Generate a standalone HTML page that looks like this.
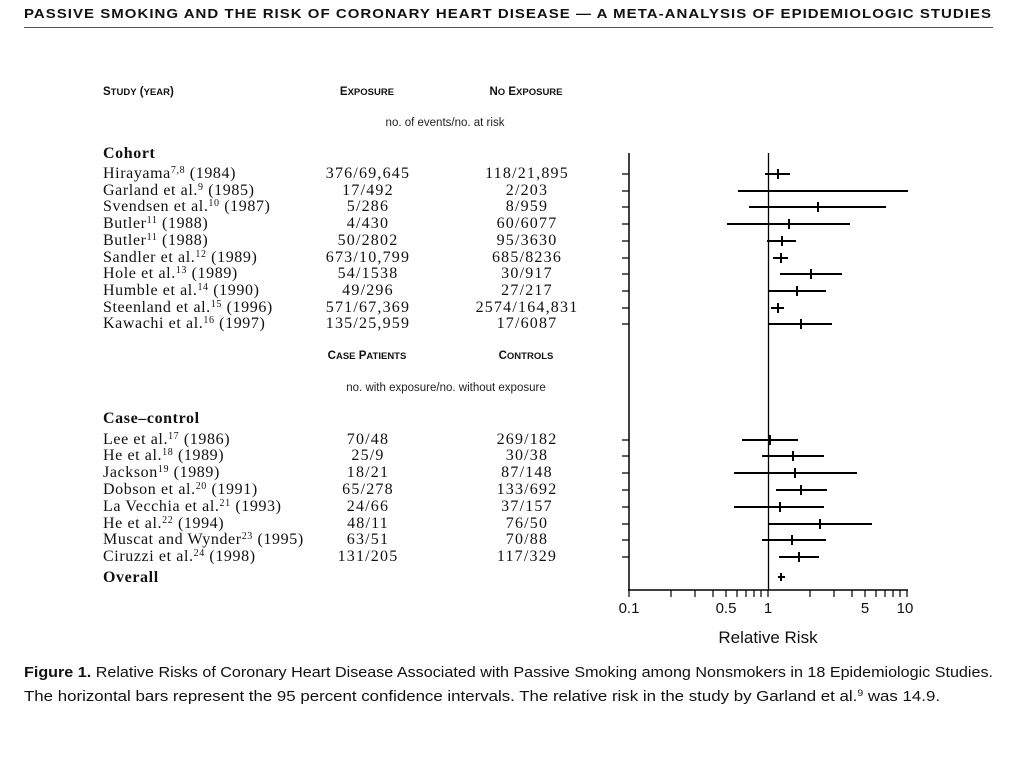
<!DOCTYPE html>
<html><head><meta charset="utf-8"><style>body{margin:0;background:#fff}svg{display:block}</style></head><body>
<svg width="1024" height="768" viewBox="0 0 1024 768" xmlns="http://www.w3.org/2000/svg">
<rect width="1024" height="768" fill="#fff"/>
<text x="24" y="18" font-family="Liberation Sans" font-weight="bold" font-size="13" letter-spacing="0.9" textLength="968" lengthAdjust="spacingAndGlyphs" fill="#111">PASSIVE SMOKING AND THE RISK OF CORONARY HEART DISEASE — A META-ANALYSIS OF EPIDEMIOLOGIC STUDIES</text>
<line x1="24" y1="27.5" x2="993" y2="27.5" stroke="#555" stroke-width="1"/>
<g font-family="Liberation Sans" font-weight="bold" fill="#111">
<text x="103" y="95" font-size="11.5">S<tspan font-size="9.5">TUDY</tspan> (<tspan font-size="9.5">YEAR</tspan>)</text>
<text x="367" y="95" font-size="11.5" text-anchor="middle">E<tspan font-size="9.5">XPOSURE</tspan></text>
<text x="526" y="95" font-size="11.5" text-anchor="middle">N<tspan font-size="9.5">O</tspan> E<tspan font-size="9.5">XPOSURE</tspan></text>
<text x="367" y="359" font-size="11.5" text-anchor="middle">C<tspan font-size="9.5">ASE</tspan> P<tspan font-size="9.5">ATIENTS</tspan></text>
<text x="526" y="359" font-size="11.5" text-anchor="middle">C<tspan font-size="9.5">ONTROLS</tspan></text>
</g>
<g font-family="Liberation Sans" font-size="11.5" fill="#222">
<text x="445" y="126" text-anchor="middle">no. of events/no. at risk</text>
<text x="446" y="391" text-anchor="middle">no. with exposure/no. without exposure</text>
</g>
<g font-family="Liberation Serif" font-size="16" fill="#111" letter-spacing="0.6">
<text x="103" y="158" font-weight="bold">Cohort</text>
<text x="103" y="178">Hirayama<tspan font-size="10" dy="-5">7,8</tspan><tspan dy="5"> (1984)</tspan></text>
<text x="103" y="195">Garland et al.<tspan font-size="10" dy="-5">9</tspan><tspan dy="5"> (1985)</tspan></text>
<text x="103" y="211">Svendsen et al.<tspan font-size="10" dy="-5">10</tspan><tspan dy="5"> (1987)</tspan></text>
<text x="103" y="228">Butler<tspan font-size="10" dy="-5">11</tspan><tspan dy="5"> (1988)</tspan></text>
<text x="103" y="245">Butler<tspan font-size="10" dy="-5">11</tspan><tspan dy="5"> (1988)</tspan></text>
<text x="103" y="262">Sandler et al.<tspan font-size="10" dy="-5">12</tspan><tspan dy="5"> (1989)</tspan></text>
<text x="103" y="278">Hole et al.<tspan font-size="10" dy="-5">13</tspan><tspan dy="5"> (1989)</tspan></text>
<text x="103" y="295">Humble et al.<tspan font-size="10" dy="-5">14</tspan><tspan dy="5"> (1990)</tspan></text>
<text x="103" y="312">Steenland et al.<tspan font-size="10" dy="-5">15</tspan><tspan dy="5"> (1996)</tspan></text>
<text x="103" y="328">Kawachi et al.<tspan font-size="10" dy="-5">16</tspan><tspan dy="5"> (1997)</tspan></text>
<text x="103" y="423" font-weight="bold">Case–control</text>
<text x="103" y="444">Lee et al.<tspan font-size="10" dy="-5">17</tspan><tspan dy="5"> (1986)</tspan></text>
<text x="103" y="460">He et al.<tspan font-size="10" dy="-5">18</tspan><tspan dy="5"> (1989)</tspan></text>
<text x="103" y="477">Jackson<tspan font-size="10" dy="-5">19</tspan><tspan dy="5"> (1989)</tspan></text>
<text x="103" y="494">Dobson et al.<tspan font-size="10" dy="-5">20</tspan><tspan dy="5"> (1991)</tspan></text>
<text x="103" y="511">La Vecchia et al.<tspan font-size="10" dy="-5">21</tspan><tspan dy="5"> (1993)</tspan></text>
<text x="103" y="528">He et al.<tspan font-size="10" dy="-5">22</tspan><tspan dy="5"> (1994)</tspan></text>
<text x="103" y="544">Muscat and Wynder<tspan font-size="10" dy="-5">23</tspan><tspan dy="5"> (1995)</tspan></text>
<text x="103" y="561">Ciruzzi et al.<tspan font-size="10" dy="-5">24</tspan><tspan dy="5"> (1998)</tspan></text>
<text x="103" y="582" font-weight="bold">Overall</text>
<g text-anchor="middle" letter-spacing="1.2">
<text x="368" y="178">376/69,645</text><text x="527" y="178">118/21,895</text>
<text x="368" y="195">17/492</text><text x="527" y="195">2/203</text>
<text x="368" y="211">5/286</text><text x="527" y="211">8/959</text>
<text x="368" y="228">4/430</text><text x="527" y="228">60/6077</text>
<text x="368" y="245">50/2802</text><text x="527" y="245">95/3630</text>
<text x="368" y="262">673/10,799</text><text x="527" y="262">685/8236</text>
<text x="368" y="278">54/1538</text><text x="527" y="278">30/917</text>
<text x="368" y="295">49/296</text><text x="527" y="295">27/217</text>
<text x="368" y="312">571/67,369</text><text x="527" y="312">2574/164,831</text>
<text x="368" y="328">135/25,959</text><text x="527" y="328">17/6087</text>
<text x="368" y="444">70/48</text><text x="527" y="444">269/182</text>
<text x="368" y="460">25/9</text><text x="527" y="460">30/38</text>
<text x="368" y="477">18/21</text><text x="527" y="477">87/148</text>
<text x="368" y="494">65/278</text><text x="527" y="494">133/692</text>
<text x="368" y="511">24/66</text><text x="527" y="511">37/157</text>
<text x="368" y="528">48/11</text><text x="527" y="528">76/50</text>
<text x="368" y="544">63/51</text><text x="527" y="544">70/88</text>
<text x="368" y="561">131/205</text><text x="527" y="561">117/329</text>
</g>
</g>
<g stroke="#000" fill="none">
<line x1="629" y1="153" x2="629" y2="591" stroke-width="1.5"/>
<line x1="628" y1="590" x2="908" y2="590" stroke-width="1.5"/>
<line x1="768.5" y1="153" x2="768.5" y2="590" stroke-width="1.3"/>
<g stroke-width="1.2">
<path d="M622 174h7M622 191h7M622 207h7M622 224h7M622 241h7M622 258h7M622 274h7M622 291h7M622 308h7M622 324h7M622 440h7M622 456h7M622 473h7M622 490h7M622 507h7M622 524h7M622 540h7M622 557h7"/>
<path d="M629 590v7M671 590v7M695 590v7M713 590v7M726 590v7M737 590v7M746 590v7M754 590v7M761 590v7M768 590v7M810 590v7M834 590v7M852 590v7M865 590v7M876 590v7M885 590v7M893 590v7M900 590v7M907 590v7"/>
</g>
<g stroke-width="2">
<path d="M765 174h25M738 191h170M749 207h137M727 224h123M767 241h29M773 258h15M780 274h62M769 291h57M771 308h13M769 324h63"/>
<path d="M742 440h56M762 456h62M734 473h123M776 490h51M734 507h90M769 524h103M762 540h64M779 557h40M778 577h7"/>
</g>
<g stroke-width="2">
<path d="M778 169v10M818 202v10M789 219v10M782 236v10M781 253v10M811 269v10M797 286v10M778 303v10M801 319v10"/>
<path d="M770 435v10M793 451v10M795 468v10M801 485v10M780 502v10M820 519v10M792 535v10M799 552v10M781 573v8"/>
</g>
</g>
<g font-family="Liberation Sans" font-size="15" fill="#111" text-anchor="middle">
<text x="629" y="613">0.1</text><text x="726" y="613">0.5</text><text x="768" y="613">1</text><text x="865" y="613">5</text><text x="905" y="613">10</text>
<text x="768" y="643" font-size="17">Relative Risk</text>
</g>
<g font-family="Liberation Sans" font-size="14.5" fill="#111">
<text x="24" y="677" textLength="969" lengthAdjust="spacingAndGlyphs"><tspan font-weight="bold">Figure 1.</tspan> Relative Risks of Coronary Heart Disease Associated with Passive Smoking among Nonsmokers in 18 Epidemiologic Studies.</text>
<text x="24" y="701" textLength="916" lengthAdjust="spacingAndGlyphs">The horizontal bars represent the 95 percent confidence intervals. The relative risk in the study by Garland et al.<tspan font-size="9" dy="-5">9</tspan><tspan dy="5"> was 14.9.</tspan></text>
</g>
</svg>
</body></html>
